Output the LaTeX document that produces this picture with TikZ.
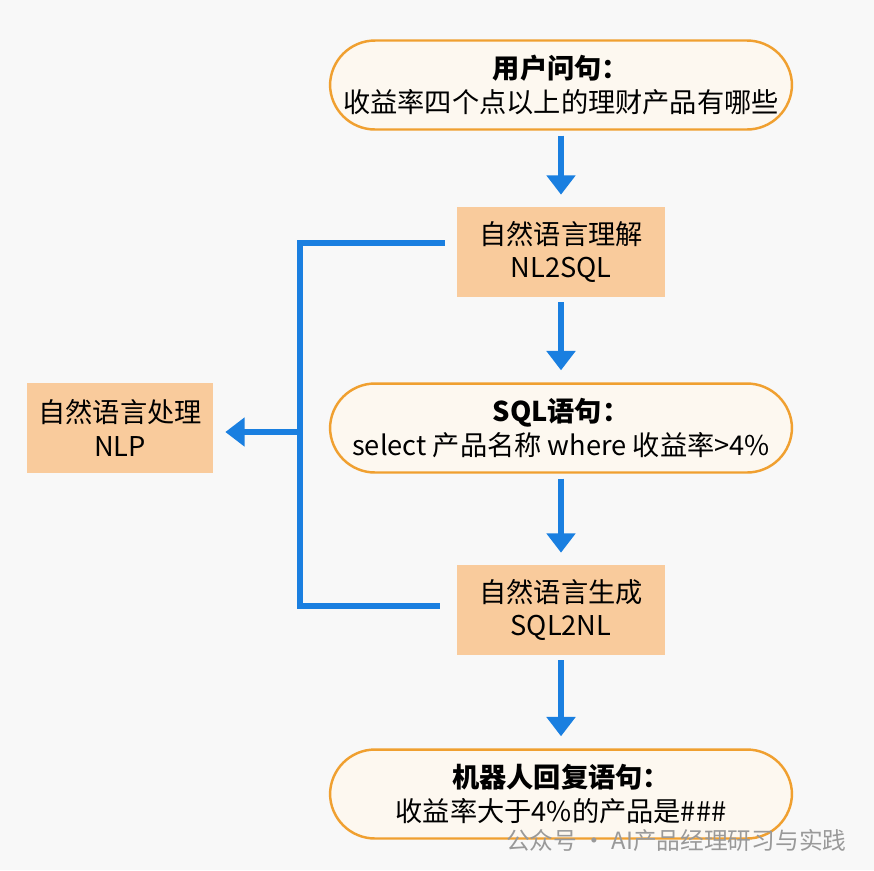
\documentclass[tikz,border=0pt]{standalone}
\usepackage{fontspec}
\setmainfont{Noto Sans CJK SC}
\usetikzlibrary{positioning,arrows.meta}
\definecolor{boxfill}{HTML}{F9CB9C}
\definecolor{roundline}{HTML}{F0A030}
\definecolor{roundfill}{HTML}{FDF8F0}
\definecolor{flowblue}{HTML}{1A7FE0}
\definecolor{bggray}{HTML}{F8F8F8}
\tikzset{
    every node/.style={font=\fontsize{15.5}{19}\selectfont, align=center},
    stage/.style={fill=boxfill, minimum width=4.16cm, minimum height=1.8cm},
    talk/.style={draw=roundline, line width=1.4pt, fill=roundfill,
        rounded corners=0.9cm, minimum width=9.24cm, minimum height=1.78cm},
    flow/.style={flowblue, line width=3pt, -{Triangle[width=16pt,length=11pt]},
        shorten <=0.1cm, shorten >=0.24cm}
}
\begin{document}
\begin{tikzpicture}[x=0.02cm, y=-0.02cm]
    \fill[bggray] (0,0) rectangle (874,870);
    \useasboundingbox (0,0) rectangle (874,870);

    \node[talk] (ask) at (561,85) {\textbf{用户问句：}\\收益率四个点以上的理财产品有哪些};
    \node[stage] (nlu) at (561,252) {自然语言理解\\NL2SQL};
    \node[talk] (sql) at (561,428) {\textbf{SQL语句：}\\select 产品名称 where 收益率>4\%};
    \node[stage] (nlg) at (561,610) {自然语言生成\\SQL2NL};
    \node[talk] (reply) at (561,794) {\textbf{机器人回复语句：}\\收益率大于4\%的产品是\#\#\#};
    \node[stage, minimum width=3.72cm] (nlp) at (120,428) {自然语言处理\\NLP};

    \draw[flow] (ask.south) -- (nlu.north);
    \draw[flow] (nlu.south) -- (sql.north);
    \draw[flow] (sql.south) -- (nlg.north);
    \draw[flow] (nlg.south) -- (reply.north);

    \coordinate (top) at (300,243);
    \coordinate (bot) at (300,606);
    \coordinate (mid) at (300,432);
    \draw[flowblue, line width=3.5pt] ([xshift=-0.24cm]nlu.west |- top) -- (top) -- (bot)
        -- ([xshift=-0.34cm]nlg.west |- bot);
    \draw[flow, line width=3.5pt, shorten <=0pt] (mid) -- (nlp.east |- mid);

    \node[text=gray!80, font=\fontsize{13.5}{15}\selectfont, anchor=west] (mark) at (500,840) {公众号 · AI产品经理研习与实践};
\end{tikzpicture}
\end{document}
